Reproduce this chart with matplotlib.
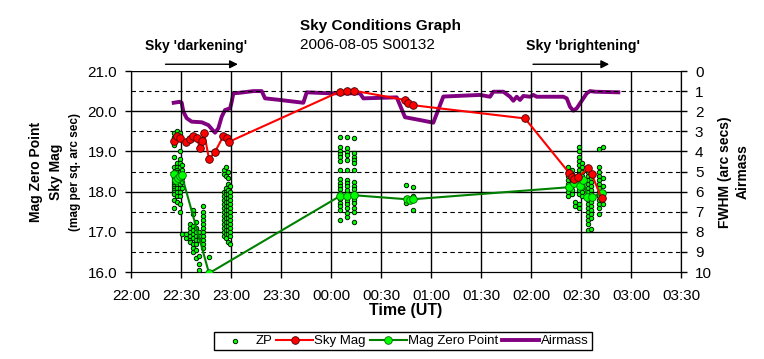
import matplotlib.pyplot as plt
from matplotlib.ticker import FuncFormatter, MultipleLocator

plt.rcParams['font.family'] = ['Liberation Sans', 'DejaVu Sans']

# times are decimal hours UT, continuing past midnight (24.5 = 00:30)
sky_time = [22.433, 22.457, 22.49, 22.55, 22.59, 22.623, 22.657, 22.69, 22.707, 22.73,
            22.78, 22.84, 22.923, 22.957, 22.98, 24.09, 24.157, 24.23, 24.74, 24.773,
            24.817, 25.94, 26.383, 26.407, 26.43, 26.473, 26.573, 26.607, 26.707]
sky_mag = [19.27, 19.38, 19.33, 19.23, 19.30, 19.38, 19.33, 19.09, 19.27, 19.47,
           18.81, 18.99, 19.38, 19.33, 19.24, 20.49, 20.51, 20.51, 20.28, 20.20,
           20.15, 19.82, 18.46, 18.37, 18.32, 18.37, 18.58, 18.43, 17.83]

mzp_time = [22.43, 22.45, 22.47, 22.49, 22.507, 22.78, 24.09, 24.157, 24.23, 24.757,
            24.79, 24.817, 26.383, 26.43, 26.49, 26.523, 26.563, 26.607, 26.707]
mzp_mag = [18.45, 18.30, 18.35, 18.38, 18.41, 15.97, 17.89, 17.89, 17.91, 17.81,
           17.79, 17.81, 18.11, 18.22, 18.14, 18.29, 17.86, 17.86, 17.97]

air_time = [22.427, 22.49, 22.507, 22.523, 22.557, 22.607, 22.707, 22.773, 22.84, 22.873,
            22.907, 22.94, 22.99, 23.007, 23.023, 23.09, 23.223, 23.307, 23.34, 23.49,
            23.723, 23.757, 23.99, 24.29, 24.323, 24.657, 24.74, 24.89, 25.023, 25.123,
            25.49, 25.59, 25.623, 25.723, 25.79, 25.823, 25.857, 25.89, 25.923, 25.99,
            26.023, 26.057, 26.323, 26.357, 26.39, 26.423, 26.457, 26.49, 26.557, 26.59,
            26.64, 26.873]
airmass = [1.58, 1.53, 1.58, 2.02, 2.35, 2.52, 2.55, 2.69, 3.07, 2.85,
           2.27, 1.94, 1.86, 1.53, 1.11, 1.08, 1.00, 1.00, 1.36, 1.44,
           1.58, 1.06, 1.11, 1.11, 1.36, 1.31, 2.30, 2.44, 2.57, 1.27,
           1.19, 1.28, 1.03, 1.03, 1.28, 1.48, 1.28, 1.44, 1.24, 1.28,
           1.19, 1.28, 1.28, 1.36, 1.78, 1.97, 1.86, 1.61, 1.11, 1.00,
           1.03, 1.06]

# individual star zero points, grouped by exposure time
zp_col_time = [22.43, 22.46, 22.49, 22.51,
               22.55, 22.59, 22.62, 22.65, 22.68, 22.72, 22.78,
               22.93, 22.95, 22.97, 22.99,
               24.09, 24.157, 24.23,
               24.75, 24.82,
               26.37, 26.41, 26.44, 26.48, 26.51, 26.57, 26.60, 26.68, 26.72]
zp_col_mag = [
    [19.45, 19.35, 19.25, 19.15, 18.85, 18.6, 18.5, 18.45, 18.4, 18.35, 18.3, 18.25, 18.2, 18.15, 18.1, 18.05, 18.0, 17.95, 17.8, 17.6],
    [19.5, 19.4, 19.3, 18.7, 18.6, 18.55, 18.5, 18.45, 18.4, 18.35, 18.3, 18.25, 18.2, 18.1, 18.0, 17.9, 17.75],
    [19.45, 19.3, 19.0, 18.8, 18.7, 18.6, 18.5, 18.4, 18.3, 18.2, 18.1, 18.0, 17.9, 17.7, 17.5],
    [18.65, 18.55, 18.45, 18.35, 18.25, 18.1, 16.95],
    [16.85, 16.95],
    [17.2, 17.1, 17.0, 16.9, 16.8, 16.75],
    [17.55, 17.45, 17.15, 17.05, 16.95, 16.85, 16.7, 16.6, 16.5],
    [17.25, 17.1, 17.0, 16.9, 16.8, 16.7, 16.55, 16.35],
    [17.0, 16.9, 16.8, 16.4, 16.2, 16.05],
    [17.65, 17.5, 17.4, 17.3, 17.2, 17.1, 17.0, 16.9, 16.8, 16.7, 16.6],
    [16.38],
    [18.55, 18.45, 18.0, 17.9, 17.8, 17.7, 17.6, 17.5, 17.4, 17.3, 17.2, 17.1, 17.0, 16.9],
    [18.6, 18.4, 18.1, 18.0, 17.95, 17.85, 17.75, 17.65, 17.55, 17.45, 17.35, 17.25, 17.15, 17.05, 16.95, 16.85],
    [18.5, 18.35, 18.2, 18.05, 17.95, 17.85, 17.75, 17.65, 17.55, 17.45, 17.35, 17.25, 17.15, 17.05, 16.95, 16.75],
    [18.15, 18.0, 17.9, 17.8, 17.7, 17.6, 17.5, 17.4, 17.3, 17.2, 17.1, 17.0, 16.9, 16.7],
    [19.37, 19.1, 19.02, 18.94, 18.85, 18.77, 18.54, 18.31, 18.22, 18.14, 18.06, 17.97, 17.89, 17.81, 17.72, 17.64, 17.54, 17.29],
    [19.35, 19.08, 18.98, 18.9, 18.78, 18.54, 18.3, 18.22, 18.14, 18.04, 17.95, 17.85, 17.76, 17.68, 17.6, 17.48, 17.38],
    [19.33, 18.97, 18.87, 18.78, 18.72, 18.54, 18.25, 18.14, 18.06, 17.97, 17.89, 17.8, 17.72, 17.6, 17.5, 17.25],
    [18.17, 17.85, 17.72],
    [18.12, 17.9, 17.55],
    [18.6, 18.5, 18.4, 18.3, 18.2, 18.1, 18.0, 17.9],
    [18.55, 18.45, 18.35, 18.25, 18.15, 18.05, 17.95],
    [17.75, 17.64],
    [19.1, 19.0, 18.85, 18.75, 18.65, 18.55, 18.45, 18.35, 18.25, 18.15, 18.05, 17.95, 17.7, 17.6],
    [18.7, 18.6, 18.5, 18.4, 18.3, 18.2, 18.1, 18.0, 17.9],
    [18.5, 18.4, 18.3, 18.2, 18.1, 18.0, 17.9, 17.8, 17.7, 17.6, 17.5, 17.4, 17.3, 17.2, 17.05],
    [18.35, 18.25, 18.15, 18.05, 17.95, 17.85, 17.75, 17.65, 17.55, 17.45, 17.35, 17.08],
    [19.05, 18.6, 18.5, 18.4, 18.3, 18.2, 18.1, 18.0, 17.9, 17.8, 17.7, 17.6, 17.45],
    [19.1, 18.35, 18.15, 18.0, 17.85, 17.7],
]

zp_time = []
zp_mag = []
for t, mags in zip(zp_col_time, zp_col_mag):
    for m in mags:
        zp_time.append(t)
        zp_mag.append(m)


def hhmm(x, pos):
    h = int(x) % 24
    m = int(round((x - int(x)) * 60))
    return f"{h:02d}:{m:02d}"


fig = plt.figure(figsize=(7.64, 3.59), dpi=100)
ax = fig.add_axes([0.1715, 0.2423, 0.7199, 0.5599])

ax2 = ax.twinx()
ax2.set_ylim(10, 0)
ax2.yaxis.set_major_locator(MultipleLocator(1))
ax2.set_zorder(0)
ax.set_zorder(1)
ax.patch.set_visible(False)
ax2.patch.set_facecolor('#C0C0C0')

# gridlines: solid on whole mags, dashed on half mags
for y in [16.5, 17.5, 18.5, 19.5, 20.5]:
    ax.axhline(y, color='black', linestyle=(0, (4, 3)), linewidth=0.8, zorder=1)
for y in [17, 18, 19, 20, 21]:
    ax.axhline(y, color='black', linewidth=1, zorder=1)
ax.grid(axis='x', color='black', linewidth=1, zorder=1)

l_air, = ax.plot([], [], color='#800080', linewidth=2.8)
ax2.plot(air_time, airmass, color='#800080', linewidth=2.8, zorder=3)

sc_zp = ax.scatter(zp_time, zp_mag, s=10, facecolor='#00FF00', edgecolor='#001a00',
                   linewidth=0.7, zorder=4)
l_mzp, = ax.plot(mzp_time, mzp_mag, color='#008000', linewidth=1.5, marker='o',
                 markersize=5.5, markerfacecolor='#00FF00', markeredgecolor='#006600',
                 markeredgewidth=0.6, zorder=5)
l_sky, = ax.plot(sky_time, sky_mag, color='#FF0000', linewidth=1.5, marker='o',
                 markersize=5.5, markerfacecolor='#FF0000', markeredgecolor='#400000',
                 markeredgewidth=0.6, zorder=6)

ax.set_xlim(22, 27.5)
ax.set_ylim(16, 21)
ax.xaxis.set_major_locator(MultipleLocator(0.5))
ax.xaxis.set_major_formatter(FuncFormatter(hhmm))
ax.yaxis.set_major_locator(MultipleLocator(1))
ax.yaxis.set_major_formatter(FuncFormatter(lambda v, p: f"{v:.1f}"))
ax.tick_params(axis='x', labelsize=11, direction='out', length=4, width=1, pad=8)
ax.tick_params(axis='y', labelsize=11, direction='out', length=4, width=1, pad=6)
ax2.tick_params(axis='y', labelsize=11, direction='out', length=4, width=1, pad=6)
ax.set_xlabel("Time (UT)", fontsize=11.5, fontweight='bold', labelpad=0)

for a in (ax, ax2):
    a.spines['top'].set_visible(False)
    for s in ('left', 'right', 'bottom'):
        a.spines[s].set_color('black')

# axis titles
fig.text(0.047, 0.521, "Mag Zero Point", rotation=90, fontsize=10, fontweight='bold',
         ha='center', va='center')
fig.text(0.073, 0.521, "Sky Mag", rotation=90, fontsize=10, fontweight='bold',
         ha='center', va='center')
fig.text(0.098, 0.521, "(mag per sq. arc sec)", rotation=90, fontsize=8.5, fontweight='bold',
         ha='center', va='center')
fig.text(0.949, 0.52, "FWHM (arc secs)", rotation=90, fontsize=10, fontweight='bold',
         ha='center', va='center')
fig.text(0.972, 0.522, "Airmass", rotation=90, fontsize=10, fontweight='bold',
         ha='center', va='center')

fig.text(0.393, 0.927, "Sky Conditions Graph", fontsize=11, fontweight='bold',
         ha='left', va='center')
fig.text(0.393, 0.874, "2006-08-05 S00132", fontsize=11, ha='left', va='center')

fig.text(0.257, 0.872, "Sky 'darkening'", fontsize=10, fontweight='bold', ha='center', va='center')
fig.text(0.763, 0.872, "Sky 'brightening'", fontsize=10.2, fontweight='bold', ha='center', va='center')
arrow = dict(arrowstyle='-|>', color='black', lw=1, mutation_scale=12)
ax.annotate('', xy=(0.315, 0.821), xytext=(0.213, 0.821), xycoords='figure fraction',
            arrowprops=arrow, annotation_clip=False)
ax.annotate('', xy=(0.801, 0.821), xytext=(0.694, 0.821), xycoords='figure fraction',
            arrowprops=arrow, annotation_clip=False)

leg = fig.legend([sc_zp, l_sky, l_mzp, l_air], ["ZP", "Sky Mag", "Mag Zero Point", "Airmass"],
                 loc='center', bbox_to_anchor=(0.527, 0.05), ncol=4, fontsize=9.5,
                 frameon=True, fancybox=False, edgecolor='black', framealpha=1,
                 handlelength=2.8, handletextpad=0.1, columnspacing=0.3,
                 borderpad=0.25, scatterpoints=1)
leg.get_frame().set_linewidth(1)

fig.savefig("out.png", dpi=100)
